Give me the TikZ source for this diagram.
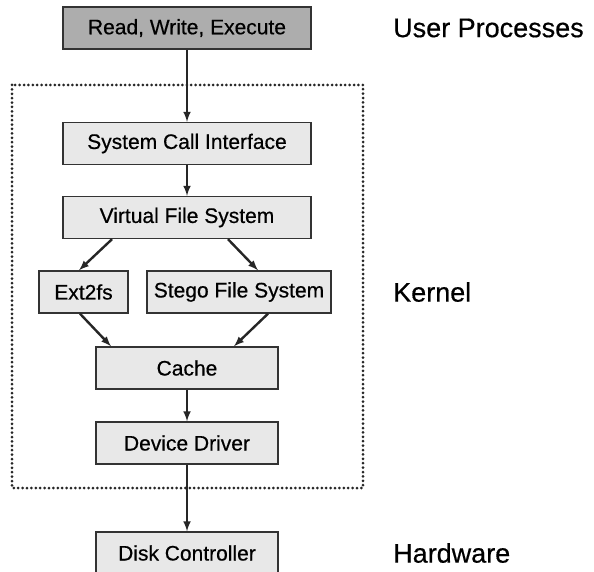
\documentclass[tikz,border=0pt]{standalone}
\usepackage{fontspec}
\setmainfont{Liberation Sans}
\newfontfamily\blkfont[FakeBold=0.5]{Liberation Sans}
\usetikzlibrary{positioning, arrows}

\tikzset{
	blk/.style={draw=black!80, line width=1.4pt, fill=black!9, minimum height=42pt, inner sep=0pt, font=\blkfont\fontsize{21}{25}\selectfont},
	userblk/.style={blk, fill=black!32},
	layer/.style={anchor=west, inner sep=0pt, font=\blkfont\fontsize{27}{32}\selectfont},
	flow/.style={->, >=latex, line width=2.4pt, black!85},
	kernelline/.style={line width=3pt, line cap=round, dash pattern=on 0pt off 4.4pt, black!85},
}

\begin{document}
\begin{tikzpicture}[x=1pt, y=-1pt]
\fill[white] (0,0) rectangle (594,572);
\useasboundingbox (0,0) rectangle (594,572);
% kernel region
\draw[kernelline] (12,85) rectangle (363,488);
% blocks
\node[userblk, minimum width=248pt] (rwx) at (187,28) {Read, Write, Execute};
\node[blk, minimum width=248pt] (sci) at (187,143.5) {System Call Interface};
\node[blk, minimum width=248pt] (vfs) at (187,217.5) {Virtual File System};
\node[blk, minimum width=89pt] (ext) at (83.5,292) {Ext2fs};
\node[blk, minimum width=184pt] (stego) at (239,292) {Stego File System};
\foreach \v/\y/\t in {cache/368/Cache, drv/443/Device Driver, disk/553/Disk Controller}
	\node[blk, minimum width=182pt] (\v) at (187,\y) {\t};
% layer names
\node[layer] (user) at (393,28) {User Processes};
\node[layer] (kernel) at (393,292) {Kernel};
\node[layer] (hw) at (393,553) {Hardware};
% arrows
\foreach \a/\b in {rwx/sci, sci/vfs, cache/drv, drv/disk}
	\draw[flow] (\a) -- (\b);
\draw[flow] ([xshift=-75pt]vfs.south) -- ([xshift=-4.5pt]ext.north);
\draw[flow] ([xshift=41pt]vfs.south) -- ([xshift=19pt]stego.north);
\draw[flow] ([xshift=-3.5pt]ext.south) -- ([xshift=-76pt]cache.north);
\draw[flow] ([xshift=29pt]stego.south) -- ([xshift=47pt]cache.north);
\end{tikzpicture}
\end{document}
